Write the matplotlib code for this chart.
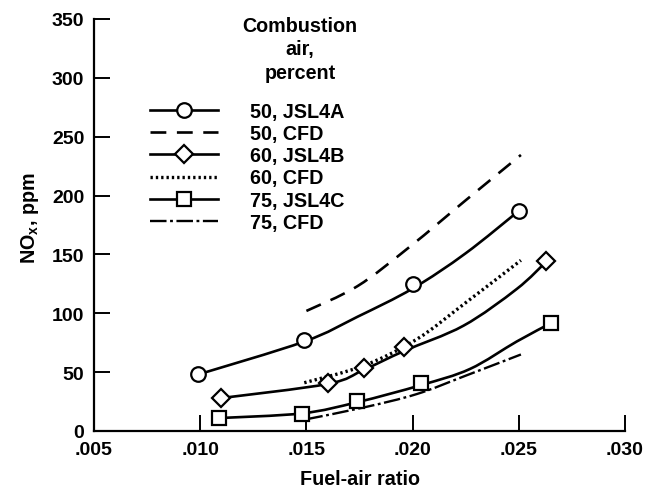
import matplotlib
matplotlib.use("Agg")
import matplotlib.pyplot as plt
import numpy as np
from matplotlib.path import Path
from matplotlib.patches import PathPatch
from matplotlib.lines import Line2D

# Measured points (markers)
fa_50_exp = [0.0099, 0.0149, 0.0200, 0.0250]
nox_50_exp = [48, 77, 125, 187]
fa_60_exp = [0.0110, 0.0160, 0.0177, 0.0196, 0.0263]
nox_60_exp = [28, 41, 53.5, 71, 144]
fa_75_exp = [0.0109, 0.0148, 0.0174, 0.0204, 0.0265]
nox_75_exp = [11, 14.4, 25.7, 40.8, 91.5]

fa_50_fit = [0.0099, 0.0149, 0.0174, 0.0200, 0.0225, 0.0250]
nox_50_fit = [48, 76, 97, 121, 151, 187]
fa_60_fit = [0.0110, 0.0160, 0.0177, 0.0196, 0.0224, 0.0249, 0.0263]
nox_60_fit = [28, 40, 52, 68, 89.5, 120.6, 144]
fa_75_fit = [0.0109, 0.0148, 0.0174, 0.0204, 0.0227, 0.0249, 0.0265]
nox_75_fit = [11, 15, 24.5, 39, 52.7, 76, 91.5]

# CFD predictions
fa_50_cfd = [0.0150, 0.0174, 0.0199, 0.0225, 0.0251]
nox_50_cfd = [102, 123, 157, 196, 234.5]
fa_60_cfd = [0.0149, 0.0177, 0.0202, 0.0225, 0.0251]
nox_60_cfd = [41, 55.5, 78, 109, 145]
fa_75_cfd = [0.0150, 0.0177, 0.0202, 0.0225, 0.0251]
nox_75_cfd = [10, 20, 31.4, 47, 65]

labels = ["50, JSL4A", "50, CFD", "60, JSL4B", "60, CFD", "75, JSL4C", "75, CFD"]
legend_title = "Combustion\nair,\npercent"
x_ticks = [0.005, 0.010, 0.015, 0.020, 0.025, 0.030]
x_tick_labels = [".005", ".010", ".015", ".020", ".025", ".030"]
y_ticks = [0, 50, 100, 150, 200, 250, 300, 350]

plt.rcParams['font.family'] = ['Liberation Sans', 'DejaVu Sans']
plt.rcParams['font.weight'] = 'bold'
plt.rcParams['mathtext.fontset'] = 'custom'
plt.rcParams['mathtext.rm'] = 'Liberation Sans:bold'

FS = 14.2
TFS = 14

fig = plt.figure(figsize=(6.58, 4.89), dpi=100)
ax = fig.add_axes([94/658, 1-432/489, 531/658, 412/489])


def smooth_curve(ax, xs, ys, **kw):
    """Draw a smooth Catmull-Rom style cubic Bezier through the given points."""
    P = np.column_stack([xs, ys]).astype(float)
    sx = 1.0 / 0.025
    sy = 1.0 / 350.0
    Q = P * [sx, sy]
    n = len(Q)
    verts = [tuple(P[0])]
    codes = [Path.MOVETO]
    for i in range(n - 1):
        p0 = Q[i - 1] if i > 0 else Q[i]
        p1 = Q[i]
        p2 = Q[i + 1]
        p3 = Q[i + 2] if i + 2 < n else Q[i + 1]
        c1 = p1 + (p2 - p0) / 6.0
        c2 = p2 - (p3 - p1) / 6.0
        for c in (c1, c2, p2):
            verts.append((c[0] / sx, c[1] / sy))
        codes += [Path.CURVE4] * 3
    patch = PathPatch(Path(verts, codes), facecolor='none', edgecolor='black',
                      capstyle='butt', **kw)
    ax.add_patch(patch)
    return patch


lw = 1.9
ms = 10.5
mk = dict(markerfacecolor='white', markeredgecolor='black', markeredgewidth=1.6)
dash_50 = (0, (6, 4))
dash_60 = (0, (0.7, 0.9))
dash_75 = (0, (7, 1.5, 1.2, 1.5))

# solid faired curves + markers
smooth_curve(ax, fa_50_fit, nox_50_fit, lw=lw, zorder=2)
ax.plot(fa_50_exp, nox_50_exp, 'o', ms=ms, zorder=3, **mk)
smooth_curve(ax, fa_60_fit, nox_60_fit, lw=lw, zorder=2)
ax.plot(fa_60_exp, nox_60_exp, 'D', ms=ms * 0.85, zorder=3, **mk)
smooth_curve(ax, fa_75_fit, nox_75_fit, lw=lw, zorder=2)
ax.plot(fa_75_exp, nox_75_exp, 's', ms=ms * 0.95, zorder=3, **mk)

# CFD curves
smooth_curve(ax, fa_50_cfd, nox_50_cfd, lw=lw, linestyle=dash_50, zorder=2)
smooth_curve(ax, fa_60_cfd, nox_60_cfd, lw=2.4, linestyle=dash_60, zorder=2)
smooth_curve(ax, fa_75_cfd, nox_75_cfd, lw=1.7, linestyle=dash_75, zorder=2)

# legend
handles = [
    Line2D([], [], color='black', lw=lw, marker='o', ms=ms, **mk),
    Line2D([], [], color='black', lw=lw, linestyle=dash_50),
    Line2D([], [], color='black', lw=lw, marker='D', ms=ms * 0.85, **mk),
    Line2D([], [], color='black', lw=2.4, linestyle=dash_60),
    Line2D([], [], color='black', lw=lw, marker='s', ms=ms * 0.95, **mk),
    Line2D([], [], color='black', lw=1.7, linestyle=dash_75),
]
leg = ax.legend(handles, labels, frameon=False,
                loc='upper left', bbox_to_anchor=(150 / 658, 1 - 103 / 489),
                bbox_transform=fig.transFigure,
                handlelength=3.45, handletextpad=1.62, labelspacing=0.16,
                fontsize=FS, numpoints=1, borderpad=0.0, borderaxespad=0.0)
fig.text(300 / 658, 1 - 17 / 489, legend_title, ha='center', va='top',
         fontsize=FS, fontweight='bold', linespacing=1.3, multialignment='center')

ax.set_xlim(0.005, 0.030)
ax.set_ylim(0, 350)
ax.set_xticks(x_ticks)
ax.set_xticklabels(x_tick_labels)
ax.set_yticks(y_ticks)
for s in ['top', 'right']:
    ax.spines[s].set_visible(False)
for s in ['left', 'bottom']:
    ax.spines[s].set_linewidth(1.6)
ax.tick_params(direction='in', length=11.5, width=1.4, labelsize=TFS, pad=7)
ax.set_xlabel("Fuel-air ratio", fontsize=FS, fontweight='bold', labelpad=8)
ax.set_ylabel(r"NO$_\mathregular{x}$, ppm", fontsize=FS, fontweight='bold', labelpad=8)
ax.yaxis.label.set_y(0.52)

fig.savefig("out.png", dpi=100)
